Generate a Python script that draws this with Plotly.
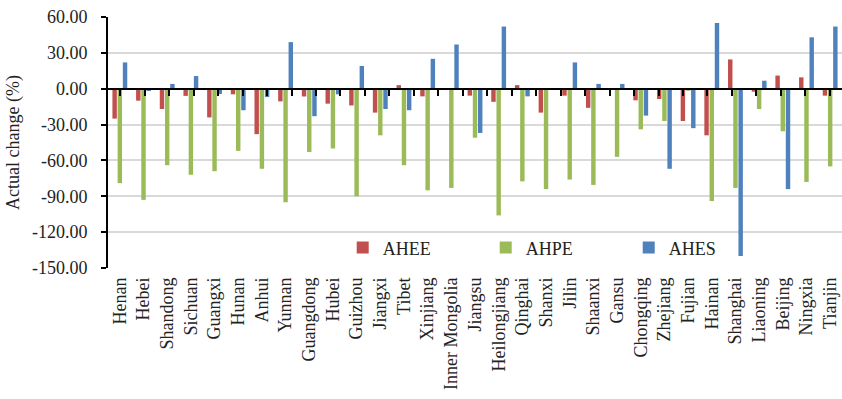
import plotly.graph_objects as go

# Provinces along the category axis
provinces = [
    "Henan", "Hebei", "Shandong", "Sichuan", "Guangxi", "Hunan", "Anhui",
    "Yunnan", "Guangdong", "Hubei", "Guizhou", "Jiangxi", "Tibet", "Xinjiang",
    "Inner Mongolia", "Jiangsu", "Heilongjiang", "Qinghai", "Shanxi", "Jilin",
    "Shaanxi", "Gansu", "Chongqing", "Zhejiang", "Fujian", "Hainan",
    "Shanghai", "Liaoning", "Beijing", "Ningxia", "Tianjin",
]

# Actual change (%) for each indicator
ahee = [-25, -10, -17, -6, -24, -4.7, -38, -10.6, -6.5, -12.5, -14, -20, 3,
        -6.4, -0.2, -5.8, -11, 3, -20, -5.8, -16, -0.2, -9.7, -8.6, -27, -39,
        24.5, -2.5, 11, 9.5, -5.8]
ahpe = [-79, -93, -64, -72, -69, -52, -67, -95, -53, -50, -90, -39, -64, -85,
        -83, -41, -106, -77.5, -84, -76, -80.5, -57, -34, -27, -1.7, -94, -83,
        -17, -35.6, -78, -65]
ahes = [22, -2, 4, 10.6, -4.4, -18, -7, 39, -23, -4.7, 19, -17, -18, 25, 37,
        -37, 52, -6.4, 0, 22, 4, 4, -22.5, -67, -33, 55, -140, 6.7, -84, 43, 52]

# Y axis ticks
y_ticks = [60, 30, 0, -30, -60, -90, -120, -150]
y_min, y_max = -150, 60

FONT = "Liberation Serif"
series = [("AHEE", ahee, "#C0504D"), ("AHPE", ahpe, "#9BBB59"), ("AHES", ahes, "#4F81BD")]

fig = go.Figure()
for name, vals, color in series:
    fig.add_trace(go.Bar(x=provinces, y=vals, name=name,
                         marker=dict(color=color, line=dict(width=0))))

# Invisible trace that carries the category axis drawn along zero
fig.add_trace(go.Scatter(x=provinces, y=[0] * len(provinces), xaxis="x2",
                         mode="none", showlegend=False, hoverinfo="skip"))

fig.update_layout(
    width=842, height=399,
    margin=dict(l=108, r=0, t=17, b=131),
    paper_bgcolor="white", plot_bgcolor="white",
    font=dict(family=FONT, size=18, color="#222"),
    barmode="group", bargap=0.34, bargroupgap=0.15,
    xaxis=dict(type="category", categoryorder="array", categoryarray=provinces,
               showline=False, ticks="", showgrid=False, tickangle=-90,
               ticklabelstandoff=5,
               tickfont=dict(family=FONT, size=18, color="#222")),
    xaxis2=dict(type="category", categoryorder="array", categoryarray=provinces,
                overlaying="x", anchor="free",
                position=(0 - y_min) / (y_max - y_min),
                showline=True, linecolor="black", linewidth=2,
                ticks="outside", tickson="boundaries", ticklen=6, tickwidth=2,
                tickcolor="black", showticklabels=False, showgrid=False,
                layer="above traces"),
    yaxis=dict(range=[y_min, y_max], tickvals=y_ticks,
               ticktext=[f"{v:.2f}" for v in y_ticks],
               showgrid=True, gridcolor="#d9d9d9", gridwidth=1.5,
               zeroline=False, showline=True, linecolor="black", linewidth=2,
               ticks="outside", ticklen=5, tickwidth=2, tickcolor="black",
               ticklabelstandoff=10,
               tickfont=dict(family=FONT, size=18, color="#222"),
               title=dict(text="Actual change (%)", standoff=8,
                          font=dict(family=FONT, size=18, color="#222"))),
    legend=dict(orientation="h", x=0.612, xanchor="center", y=0.08,
                yanchor="middle", bgcolor="rgba(0,0,0,0)",
                font=dict(family=FONT, size=18, color="#222"),
                itemwidth=30, entrywidth=98, entrywidthmode="pixels",
                tracegroupgap=0),
)

fig.write_html("out.html")
